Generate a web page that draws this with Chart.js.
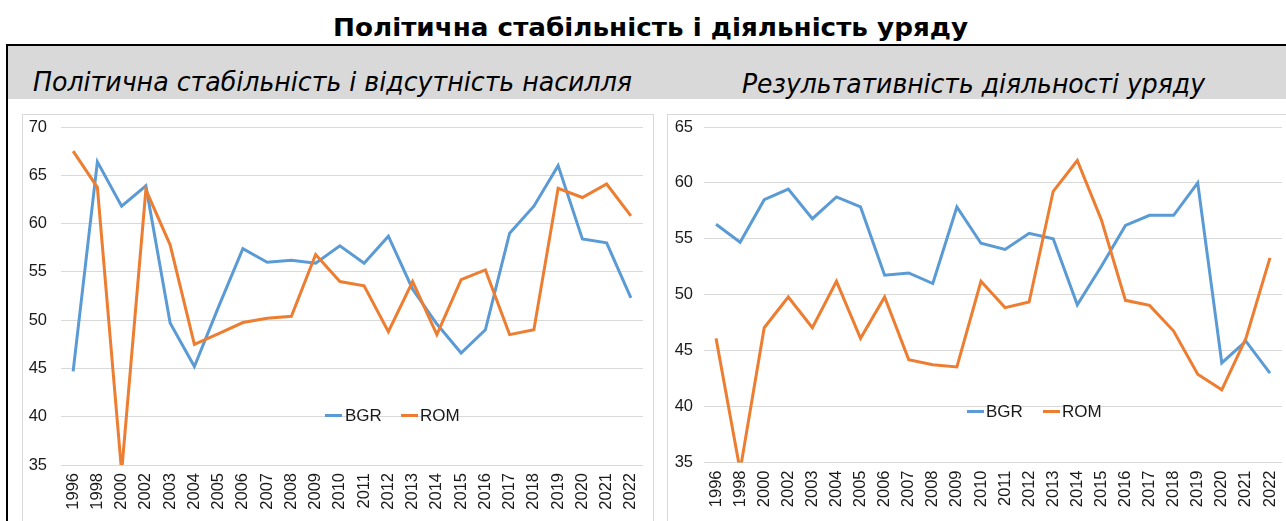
<!DOCTYPE html>
<html>
<head>
<meta charset="utf-8">
<script src="https://cdn.jsdelivr.net/npm/chart.js@4/dist/chart.umd.min.js"></script>
<style>
  html, body { margin:0; padding:0; background:#fff; }
  body { width:1286px; height:521px; position:relative; overflow:hidden; }
  .abs { position:absolute; }
  .txt { white-space:nowrap; transform-origin:0 0; color:#000; }
  #frame { left:6px; top:44px; width:1300px; height:500px; border-left:2px solid #000; border-top:2px solid #000; }
  #band { left:8px; top:46px; width:1290px; height:53px; background:#d9d9d9; }
  .box { border:1px solid #d9d9d9; background:#fff; }
  .leg { font-family:"Liberation Sans", Arial, sans-serif; font-size:17px; color:#1a1a1a; line-height:20px; }
  .legline { height:3px; }
</style>
</head>
<body>
<div class="abs" id="frame"></div>
<div class="abs" id="band"></div>

<div class="abs txt" id="mainTitle" style="font-family:'DejaVu Sans';font-weight:bold;font-size:24px;line-height:28px;">Політична стабільність і діяльність уряду</div>
<div class="abs txt" id="subL" style="font-family:'DejaVu Sans';font-style:italic;font-size:27px;line-height:32px;">Політична стабільність і відсутність насилля</div>
<div class="abs txt" id="subR" style="font-family:'DejaVu Sans';font-style:italic;font-size:27px;line-height:32px;">Результативність діяльності уряду</div>

<div class="abs box" style="left:22px;top:114px;width:630px;height:420px;"></div>
<div class="abs box" style="left:667px;top:114px;width:640px;height:420px;"></div>

<canvas id="c1" class="abs" style="left:22px;top:114px;" width="631" height="407"></canvas>
<canvas id="c2" class="abs" style="left:667px;top:114px;" width="619" height="407"></canvas>

<!-- legends -->
<div class="abs legline" style="left:325px;top:414px;width:17px;background:#5B9BD5;"></div>
<div class="abs leg" style="left:345px;top:405.5px;">BGR</div>
<div class="abs legline" style="left:401px;top:414px;width:17px;background:#ED7D31;"></div>
<div class="abs leg" style="left:420px;top:405.5px;">ROM</div>

<div class="abs legline" style="left:967px;top:410px;width:17px;background:#5B9BD5;"></div>
<div class="abs leg" style="left:986px;top:401.5px;">BGR</div>
<div class="abs legline" style="left:1043px;top:410px;width:17px;background:#ED7D31;"></div>
<div class="abs leg" style="left:1062px;top:401.5px;">ROM</div>

<script>
// ---- data ----
const years = ['1996','1998','2000','2002','2003','2004','2005','2006','2007','2008','2009','2010','2011','2012','2013','2014','2015','2016','2017','2018','2019','2020','2021','2022'];

// Політична стабільність і відсутність насилля
const stabBGR = [44.7, 66.4, 61.8, 63.9, 49.7, 45.2, 51.4, 57.4, 56.0, 56.2, 55.9, 57.7, 55.9, 58.7, 53.2, 49.6, 46.6, 49.0, 59.0, 61.8, 66.0, 58.4, 58.0, 52.3];
const stabROM = [67.5, 63.75, 34.3, 63.5, 57.8, 47.5, 48.6, 49.75, 50.2, 50.4, 56.8, 54.0, 53.55, 48.8, 54.0, 48.5, 54.2, 55.2, 48.5, 49.0, 63.65, 62.7, 64.1, 60.8];

// Результативність діяльності уряду
const govBGR = [56.3, 54.7, 58.5, 59.45, 56.8, 58.75, 57.85, 51.75, 51.95, 51.0, 57.85, 54.6, 54.05, 55.5, 55.0, 49.1, 52.55, 56.2, 57.1, 57.1, 60.0, 43.9, 45.85, 43.0];
const govROM = [46.1, 34.3, 47.05, 49.8, 47.05, 51.2, 46.1, 49.8, 44.2, 43.75, 43.55, 51.2, 48.85, 49.35, 59.25, 62.0, 56.7, 49.5, 49.05, 46.75, 42.9, 41.5, 46.1, 53.3];

const stabTicks = {min:35, max:70, step:5};
const govTicks = {min:35, max:65, step:5};

// ---- titles: fit widths ----
function place(id, left, baseline, width) {
  const el = document.getElementById(id);
  const fs = parseFloat(el.style.fontSize);
  const lh = parseFloat(el.style.lineHeight);
  const top = baseline - ((lh - 1.164*fs)/2 + 0.928*fs);
  el.style.left = left + 'px';
  el.style.top = top + 'px';
  const w = el.getBoundingClientRect().width;
  el.style.transform = 'scaleX(' + (width / w) + ')';
}
place('mainTitle', 333, 36, 635);
place('subL', 33, 91, 599);
place('subR', 742, 93, 463);

// ---- charts ----
const tickFont = {family:"'Liberation Sans', Arial, sans-serif", size:16.5};
function build(id, bgr, rom, t, yW, xH, padTop, padR, yPad) {
  new Chart(document.getElementById(id), {
    type:'line',
    data:{
      labels: years,
      datasets:[
        {label:'BGR', data:bgr, borderColor:'#5B9BD5', backgroundColor:'#5B9BD5', borderWidth:3, pointRadius:0, tension:0, fill:false, order:1},
        {label:'ROM', data:rom, borderColor:'#ED7D31', backgroundColor:'#ED7D31', borderWidth:3, pointRadius:0, tension:0, fill:false, order:0}
      ]
    },
    options:{
      responsive:false,
      animation:false,
      layout:{padding:{top:padTop, right:padR, left:0, bottom:0}},
      plugins:{legend:{display:false}, tooltip:{enabled:false}},
      scales:{
        x:{
          offset:true,
          grid:{display:false, drawTicks:false, offset:true},
          border:{display:false},
          ticks:{autoSkip:false, maxRotation:90, minRotation:90, padding:8, font:tickFont, color:'#1a1a1a'},
          afterFit(s){ s.height = xH; s.paddingLeft = 0; s.paddingRight = 0; }
        },
        y:{
          min:t.min, max:t.max,
          grid:{color:'#d9d9d9', lineWidth:1, drawTicks:false},
          border:{display:false},
          ticks:{stepSize:t.step, padding:yPad, font:tickFont, color:'#1a1a1a'},
          afterFit(s){ s.width = yW; s.paddingTop = 0; s.paddingBottom = 0; }
        }
      }
    }
  });
}
build('c1', stabBGR, stabROM, stabTicks, 39, 56, 13, 10, 14);
build('c2', govBGR, govROM, govTicks, 37, 58.5, 13, 4, 11);
</script>
</body>
</html>
